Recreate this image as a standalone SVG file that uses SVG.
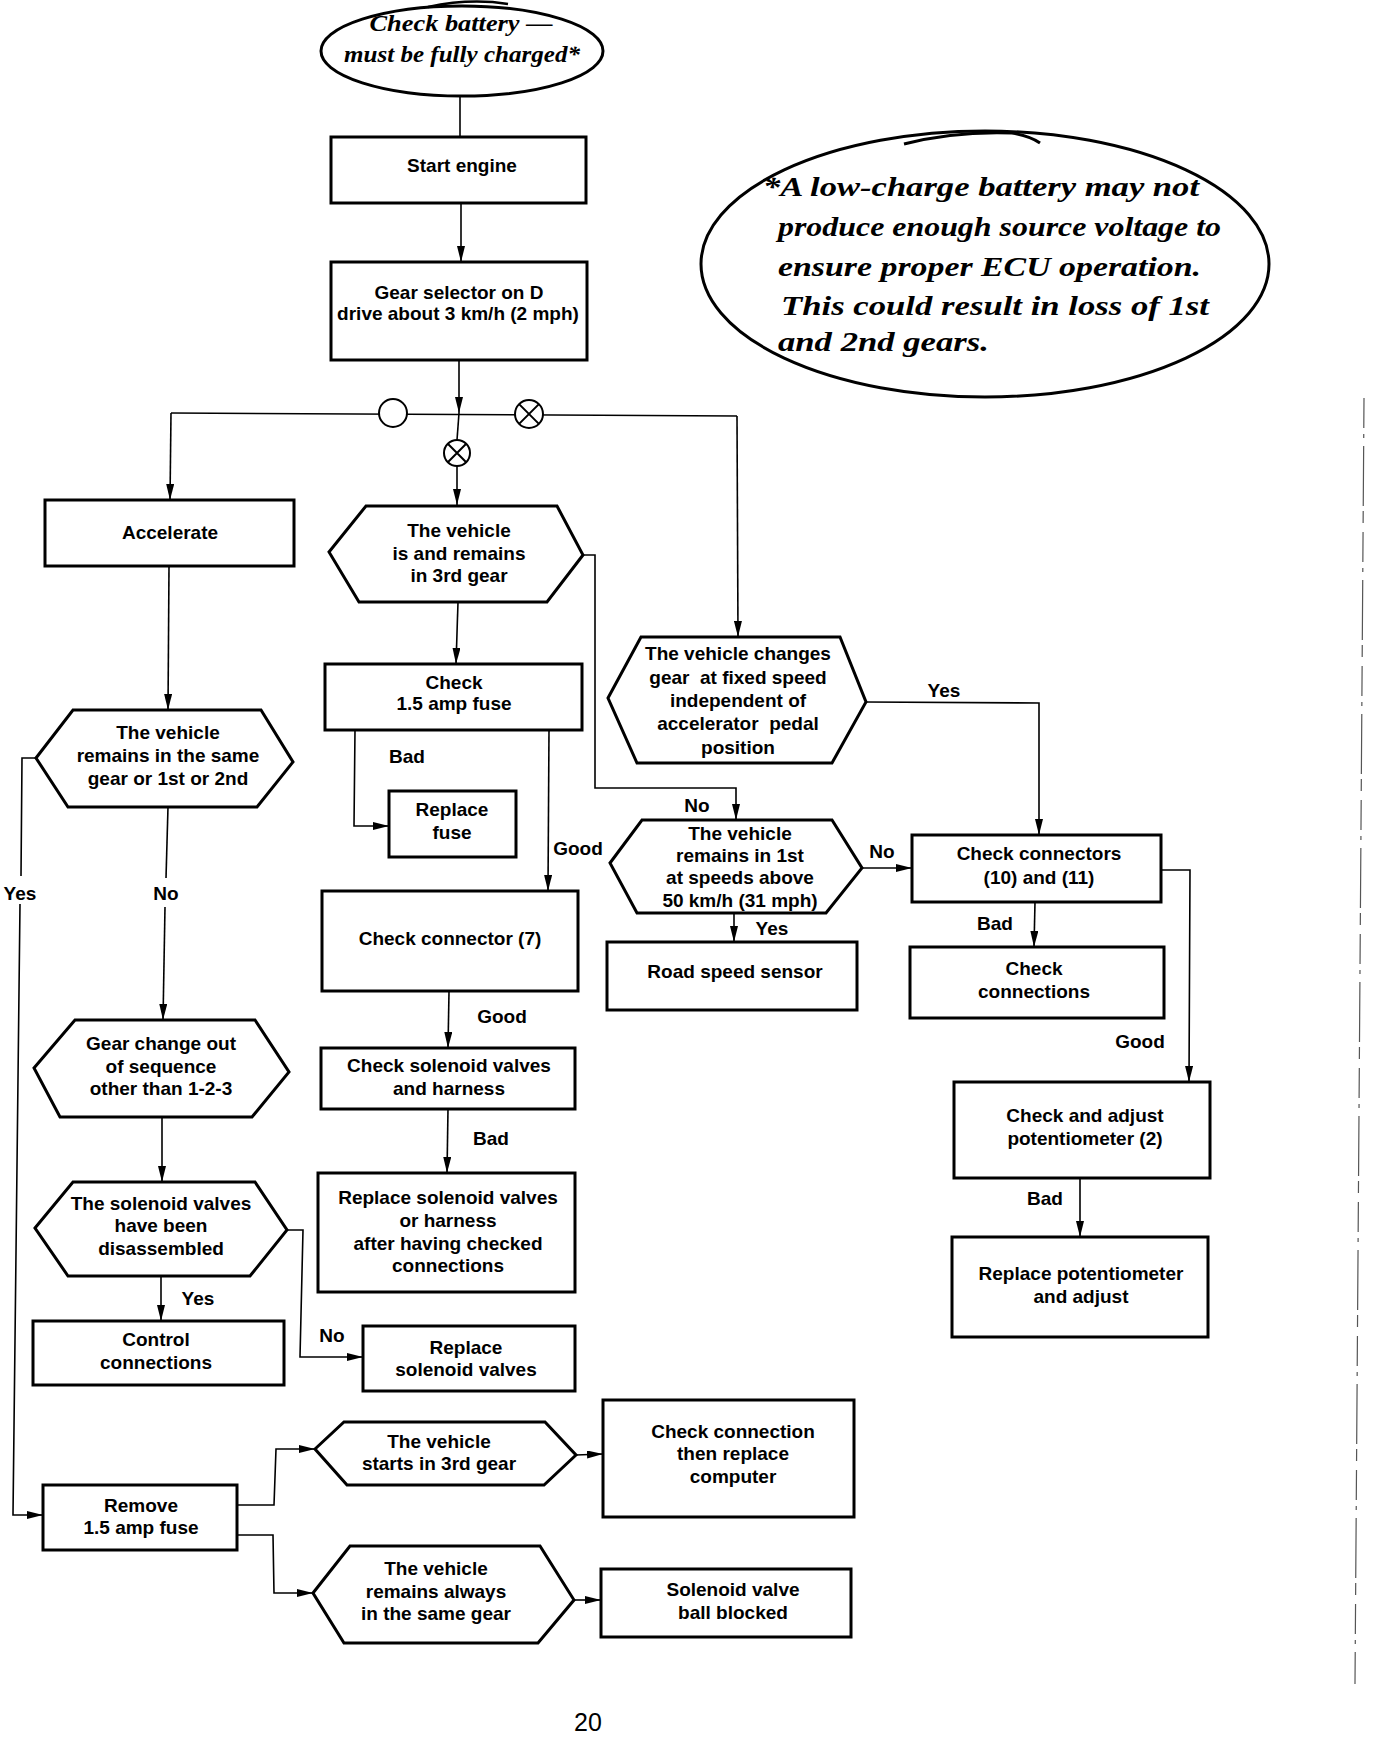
<svg xmlns="http://www.w3.org/2000/svg" width="1376" height="1750" viewBox="0 0 1376 1750">
<defs>
<style>
.box{fill:#fff;stroke:#000;stroke-width:3}
.t{font-family:"Liberation Sans",Arial,sans-serif;font-weight:bold;font-size:19px;text-anchor:middle;fill:#000}
.c{fill:none;stroke:#000;stroke-width:1.6}
.ca{fill:none;stroke:#000;stroke-width:1.6;marker-end:url(#ar)}
.sc{font-family:"Liberation Serif","Times New Roman",serif;font-style:italic;font-weight:bold;fill:#000}
.sym{fill:#fff;stroke:#000;stroke-width:2}
</style>
<marker id="ar" viewBox="0 0 16 8" refX="16" refY="4" markerWidth="16" markerHeight="8" orient="auto" markerUnits="userSpaceOnUse"><path d="M0,0 L16,4 L0,8 z" fill="#000"/></marker>
</defs>
<rect width="1376" height="1750" fill="#fff"/>

<g id="connectors">
<line class="c" x1="460" y1="96" x2="460" y2="137"/>
<line class="ca" x1="461" y1="203" x2="461" y2="262"/>
<line class="ca" x1="459" y1="360" x2="459" y2="413"/>
<line class="c" x1="459" y1="413" x2="457" y2="440"/>
<line class="ca" x1="457" y1="466" x2="457" y2="505"/>
<polyline class="c" points="171,413 737,416"/>
<line class="ca" x1="171" y1="413" x2="170" y2="500"/>
<line class="ca" x1="737" y1="416" x2="738" y2="637"/>
<line class="ca" x1="169" y1="566" x2="168" y2="710"/>
<polyline class="c" points="36,758 22,758 21,876"/>
<polyline class="ca" points="20,904 13,1515 43,1515"/>
<line class="c" x1="168" y1="807" x2="166" y2="878"/>
<line class="ca" x1="165" y1="907" x2="163" y2="1020"/>
<line class="ca" x1="162" y1="1117" x2="162" y2="1182"/>
<polyline class="ca" points="287,1230 303,1230 300,1357 363,1357"/>
<line class="ca" x1="161" y1="1277" x2="161" y2="1321"/>
<polyline class="ca" points="237,1505 274,1505 276,1449 315,1449"/>
<polyline class="ca" points="237,1535 273,1535 274,1593 313,1593"/>
<line class="ca" x1="576" y1="1455" x2="603" y2="1454"/>
<line class="ca" x1="574" y1="1600" x2="601" y2="1600"/>
<polyline class="ca" points="583,555 595,555 595,788 736,788 736,820"/>
<line class="ca" x1="458" y1="602" x2="456" y2="664"/>
<polyline class="ca" points="355,730 354,826 389,826"/>
<line class="ca" x1="549" y1="730" x2="548" y2="891"/>
<line class="ca" x1="449" y1="992" x2="448" y2="1048"/>
<line class="ca" x1="448" y1="1109" x2="447" y2="1173"/>
<polyline class="ca" points="866,702 1039,703 1039,835"/>
<line class="ca" x1="862" y1="868" x2="912" y2="868"/>
<line class="ca" x1="734" y1="913" x2="734" y2="942"/>
<line class="ca" x1="1035" y1="902" x2="1034" y2="947"/>
<polyline class="ca" points="1161,870 1190,870 1189,1082"/>
<line class="ca" x1="1080" y1="1178" x2="1080" y2="1237"/>
<circle class="sym" cx="393" cy="413" r="14"/>
<g class="sym"><circle cx="529" cy="414" r="14"/><path d="M519.1,404.1 L538.9,423.9 M538.9,404.1 L519.1,423.9"/></g>
<g class="sym"><circle cx="457" cy="453" r="13"/><path d="M447.8,443.8 L466.2,462.2 M466.2,443.8 L447.8,462.2"/></g>
<text class="t" x="20" y="900">Yes</text>
<text class="t" x="166" y="900">No</text>
<text class="t" x="332" y="1342">No</text>
<text class="t" x="198" y="1305">Yes</text>
<text class="t" x="697" y="812">No</text>
<text class="t" x="407" y="763">Bad</text>
<text class="t" x="578" y="855">Good</text>
<text class="t" x="502" y="1023">Good</text>
<text class="t" x="491" y="1145">Bad</text>
<text class="t" x="944" y="697">Yes</text>
<text class="t" x="882" y="858">No</text>
<text class="t" x="772" y="935">Yes</text>
<text class="t" x="995" y="930">Bad</text>
<text class="t" x="1140" y="1048">Good</text>
<text class="t" x="1045" y="1205">Bad</text>
</g>

<g id="battery">
<ellipse cx="462" cy="51" rx="141" ry="45" fill="#fff" stroke="#000" stroke-width="3"/>
<path d="M428,7 Q470,-2 508,4" fill="none" stroke="#000" stroke-width="2.5"/>
<text class="sc" x="461" y="31" font-size="24" text-anchor="middle" textLength="183" lengthAdjust="spacingAndGlyphs">Check battery —</text>
<text class="sc" x="462" y="62" font-size="24" text-anchor="middle" textLength="236" lengthAdjust="spacingAndGlyphs">must be fully charged*</text>
</g>

<g id="note">
<ellipse cx="985" cy="264" rx="284" ry="133" fill="none" stroke="#000" stroke-width="3"/>
<path d="M904,144 Q955,131 1012,133 Q1030,136 1040,143" fill="none" stroke="#000" stroke-width="3"/>
<text class="sc" x="763" y="196" font-size="28" textLength="436" lengthAdjust="spacingAndGlyphs">*A low-charge battery may not</text>
<text class="sc" x="778" y="236" font-size="28" textLength="443" lengthAdjust="spacingAndGlyphs">produce enough source voltage to</text>
<text class="sc" x="778" y="276" font-size="28" textLength="423" lengthAdjust="spacingAndGlyphs">ensure proper ECU operation.</text>
<text class="sc" x="781" y="315" font-size="28" textLength="428" lengthAdjust="spacingAndGlyphs">This could result in loss of 1st</text>
<text class="sc" x="778" y="351" font-size="28" textLength="211" lengthAdjust="spacingAndGlyphs">and 2nd gears.</text>
</g>

<g id="start">
<rect class="box" x="331" y="137" width="255" height="66"/>
<text class="t" x="462" y="172">Start engine</text>
</g>
<g id="gear-selector">
<rect class="box" x="331" y="262" width="256" height="98"/>
<text class="t" x="459" y="299">Gear selector on D</text>
<text class="t" x="458" y="320">drive about 3 km/h (2 mph)</text>
</g>
<g id="accelerate">
<rect class="box" x="45" y="500" width="249" height="66"/>
<text class="t" x="170" y="539">Accelerate</text>
</g>
<g id="same-gear">
<polygon class="box" points="36,758 73,710 261,710 293,762 257,807 68,807"/>
<text class="t" x="168" y="739">The vehicle</text>
<text class="t" x="168" y="762">remains in the same</text>
<text class="t" x="168" y="785">gear or 1st or 2nd</text>
</g>
<g id="out-of-sequence">
<polygon class="box" points="34,1068 75,1020 255,1020 289,1072 252,1117 60,1117"/>
<text class="t" x="161" y="1050">Gear change out</text>
<text class="t" x="161" y="1073">of sequence</text>
<text class="t" x="161" y="1095">other than 1-2-3</text>
</g>
<g id="disassembled">
<polygon class="box" points="35,1228 73,1182 255,1182 287,1230 250,1276 68,1276"/>
<text class="t" x="161" y="1210">The solenoid valves</text>
<text class="t" x="161" y="1232">have been</text>
<text class="t" x="161" y="1255">disassembled</text>
</g>
<g id="control-connections">
<rect class="box" x="33" y="1321" width="251" height="64"/>
<text class="t" x="156" y="1346">Control</text>
<text class="t" x="156" y="1369">connections</text>
</g>
<g id="replace-solenoid">
<rect class="box" x="363" y="1326" width="212" height="65"/>
<text class="t" x="466" y="1354">Replace</text>
<text class="t" x="466" y="1376">solenoid valves</text>
</g>
<g id="remove-fuse">
<rect class="box" x="43" y="1485" width="194" height="65"/>
<text class="t" x="141" y="1512">Remove</text>
<text class="t" x="141" y="1534">1.5 amp fuse</text>
</g>
<g id="starts-3rd">
<polygon class="box" points="315,1449 344,1422 545,1422 576,1455 544,1485 347,1485"/>
<text class="t" x="439" y="1448">The vehicle</text>
<text class="t" x="439" y="1470">starts in 3rd gear</text>
</g>
<g id="replace-computer">
<rect class="box" x="603" y="1400" width="251" height="117"/>
<text class="t" x="733" y="1438">Check connection</text>
<text class="t" x="733" y="1460">then replace</text>
<text class="t" x="733" y="1483">computer</text>
</g>
<g id="always-same">
<polygon class="box" points="313,1593 350,1546 540,1546 574,1600 538,1643 344,1643"/>
<text class="t" x="436" y="1575">The vehicle</text>
<text class="t" x="436" y="1598">remains always</text>
<text class="t" x="436" y="1620">in the same gear</text>
</g>
<g id="ball-blocked">
<rect class="box" x="601" y="1569" width="250" height="68"/>
<text class="t" x="733" y="1596">Solenoid valve</text>
<text class="t" x="733" y="1619">ball blocked</text>
</g>
<g id="in-3rd">
<polygon class="box" points="329,552 366,506 557,506 583,555 547,602 359,602"/>
<text class="t" x="459" y="537">The vehicle</text>
<text class="t" x="459" y="560">is and remains</text>
<text class="t" x="459" y="582">in 3rd gear</text>
</g>
<g id="check-fuse">
<rect class="box" x="325" y="664" width="257" height="66"/>
<text class="t" x="454" y="689">Check</text>
<text class="t" x="454" y="710">1.5 amp fuse</text>
</g>
<g id="replace-fuse">
<rect class="box" x="389" y="791" width="127" height="66"/>
<text class="t" x="452" y="816">Replace</text>
<text class="t" x="452" y="839">fuse</text>
</g>
<g id="connector-7">
<rect class="box" x="322" y="891" width="256" height="100"/>
<text class="t" x="450" y="945">Check connector (7)</text>
</g>
<g id="check-solenoid">
<rect class="box" x="321" y="1048" width="254" height="61"/>
<text class="t" x="449" y="1072">Check solenoid valves</text>
<text class="t" x="449" y="1095">and harness</text>
</g>
<g id="replace-harness">
<rect class="box" x="318" y="1173" width="257" height="119"/>
<text class="t" x="448" y="1204">Replace solenoid valves</text>
<text class="t" x="448" y="1227">or harness</text>
<text class="t" x="448" y="1250">after having checked</text>
<text class="t" x="448" y="1272">connections</text>
</g>
<g id="fixed-speed">
<polygon class="box" points="608,698 641,637 840,637 866,702 832,763 637,763"/>
<text class="t" x="738" y="660">The vehicle changes</text>
<text class="t" x="738" y="684" xml:space="preserve">gear  at fixed speed</text>
<text class="t" x="738" y="707">independent of</text>
<text class="t" x="738" y="730" xml:space="preserve">accelerator  pedal</text>
<text class="t" x="738" y="754">position</text>
</g>
<g id="remains-1st">
<polygon class="box" points="610,863 642,820 832,820 862,868 826,913 637,913"/>
<text class="t" x="740" y="840">The vehicle</text>
<text class="t" x="740" y="862">remains in 1st</text>
<text class="t" x="740" y="884">at speeds above</text>
<text class="t" x="740" y="907">50 km/h (31 mph)</text>
</g>
<g id="road-speed">
<rect class="box" x="607" y="942" width="250" height="68"/>
<text class="t" x="735" y="978">Road speed sensor</text>
</g>
<g id="connectors-10-11">
<rect class="box" x="912" y="835" width="249" height="67"/>
<text class="t" x="1039" y="860">Check connectors</text>
<text class="t" x="1039" y="884">(10) and (11)</text>
</g>
<g id="check-connections">
<rect class="box" x="910" y="947" width="254" height="71"/>
<text class="t" x="1034" y="975">Check</text>
<text class="t" x="1034" y="998">connections</text>
</g>
<g id="potentiometer">
<rect class="box" x="954" y="1082" width="256" height="96"/>
<text class="t" x="1085" y="1122">Check and adjust</text>
<text class="t" x="1085" y="1145">potentiometer (2)</text>
</g>
<g id="replace-potentiometer">
<rect class="box" x="952" y="1237" width="256" height="100"/>
<text class="t" x="1081" y="1280">Replace potentiometer</text>
<text class="t" x="1081" y="1303">and adjust</text>
</g>

<text x="588" y="1731" font-family="Liberation Sans, Arial, sans-serif" font-size="25" text-anchor="middle">20</text>
<line x1="1364" y1="398" x2="1355" y2="1684" stroke="#555" stroke-width="1.2" stroke-dasharray="30 6 4 8 60 5 12 9"/>
</svg>
